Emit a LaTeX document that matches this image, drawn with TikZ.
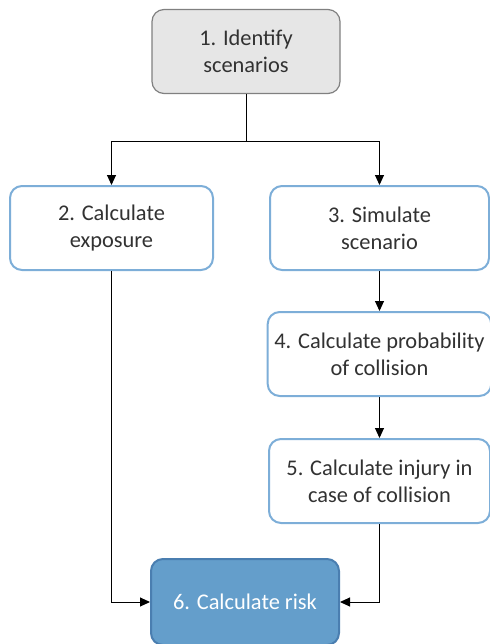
\documentclass[tikz,border=0pt]{standalone}
\usepackage{fontspec}
\setmainfont{Carlito}
\usetikzlibrary{arrows.meta,positioning}
\definecolor{boxgray}  {RGB}{230,230,230}
\definecolor{edgegray} {RGB}{128,128,128}
\definecolor{stepblue} {RGB}{125,174,216}
\definecolor{riskblue} {RGB}{100,158,203}
\definecolor{riskedge} {RGB}{ 74,126,176}
\definecolor{textgray} {RGB}{ 50, 50, 50}
\begin{document}
\begin{tikzpicture}[
    x=0.5pt, y=-0.5pt,
    node distance=20pt,
    block/.style={draw, rectangle, rounded corners=6pt, minimum height=42pt, align=center, line width=1pt, text=textgray, font=\fontsize{11.2}{13.3}\selectfont},
    start/.style={block, fill=boxgray, draw=edgegray, line width=0.6pt, minimum width=94pt},
    stepbox/.style={block, fill=white, draw=stepblue, minimum width=110.5pt},
    result/.style={block, fill=riskblue, draw=riskedge, text=white, minimum width=94pt, minimum height=43pt},
    arrow/.style={-{Triangle[length=5pt,width=4.5pt]}, line width=0.5pt}
]
    \useasboundingbox (0,0) rectangle (489,644);

    % Top of the flow
    \node[start] (identify) at (246,51.5) {1. Identify\\scenarios};
    \node[stepbox, minimum width=101.5pt] (exposure) at (111.5,228) {2. Calculate\\exposure};
    \node[stepbox, minimum width=109.5pt] (simulate) at (379.5,228) {3. Simulate\\scenario};

    % Right column going down
    \node[stepbox] (probability) [below=20pt of simulate] {4. Calculate probability\\of collision};
    \node[stepbox] (injury) [below=20.5pt of probability] {5. Calculate injury in\\case of collision};
    \node[result] (risk) at (245,602) {6. Calculate risk};

    % Connections
    \coordinate (split) at ([yshift=-23.5pt]identify.south);
    \draw[line width=0.5pt] (identify.south) -- (split);
    \draw[arrow] (split) -| (exposure.north);
    \draw[arrow] (split) -| (simulate.north);
    \draw[arrow] (simulate) -- (probability);
    \draw[arrow] (probability) -- (injury);
    \draw[arrow] (exposure.south) |- (risk.west);
    \draw[arrow] (injury.south) |- (risk.east);
\end{tikzpicture}
\end{document}
